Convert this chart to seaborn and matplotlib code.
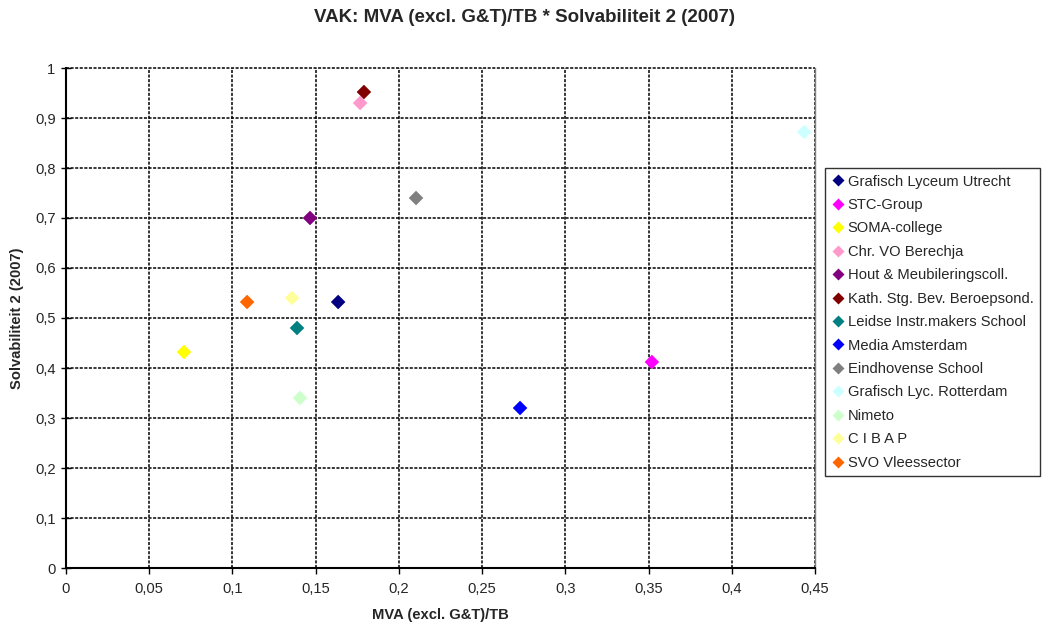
import matplotlib
matplotlib.use("Agg")
import matplotlib.pyplot as plt
import seaborn as sns
import pandas as pd
from matplotlib.ticker import FuncFormatter, MultipleLocator
from matplotlib.lines import Line2D

schools = ["Grafisch Lyceum Utrecht", "STC-Group", "SOMA-college", "Chr. VO Berechja",
           "Hout & Meubileringscoll.", "Kath. Stg. Bev. Beroepsond.", "Leidse Instr.makers School",
           "Media Amsterdam", "Eindhovense School", "Grafisch Lyc. Rotterdam", "Nimeto",
           "C I B A P", "SVO Vleessector"]
mva = [0.1635, 0.352, 0.0709, 0.1767, 0.1466, 0.179, 0.1388, 0.2728, 0.2103, 0.4435, 0.1406, 0.1358, 0.1088]
solv = [0.532, 0.412, 0.432, 0.930, 0.700, 0.952, 0.480, 0.320, 0.740, 0.872, 0.340, 0.540, 0.532]
colors = ["#000080", "#FF00FF", "#FFFF00", "#FF99CC", "#800080", "#800000", "#008080",
          "#0000FF", "#808080", "#CCFFFF", "#CCFFCC", "#FFFF99", "#FF6600"]

df = pd.DataFrame({"school": schools, "x": mva, "y": solv})

sns.set_style("white")
plt.rcParams["font.family"] = ["Liberation Sans", "DejaVu Sans"]

FS = 10.6

fig = plt.figure(figsize=(10.5, 6.25), dpi=100)
ax = fig.add_axes([66/1050, 57/625, 749/1050, 500/625])

sns.scatterplot(data=df, x="x", y="y", hue="school", palette=colors, hue_order=schools,
                marker="D", s=55, edgecolor="none", ax=ax, legend=False, zorder=3)

ax.set_xlim(0, 0.45)
ax.set_ylim(0, 1)
ax.xaxis.set_major_locator(MultipleLocator(0.05))
ax.yaxis.set_major_locator(MultipleLocator(0.1))

def fmt(v, pos):
    s = f"{v:.2f}".rstrip("0").rstrip(".")
    return s.replace(".", ",")

ax.xaxis.set_major_formatter(FuncFormatter(fmt))
ax.yaxis.set_major_formatter(FuncFormatter(fmt))
ax.grid(True, color="black", linestyle=(0, (2, 1)), linewidth=1.1, zorder=0)
ax.set_axisbelow(True)
for side in ["left", "bottom"]:
    ax.spines[side].set_color("black")
    ax.spines[side].set_linewidth(1.5)
ax.spines["top"].set_visible(False)
ax.spines["right"].set_color("#808080")
ax.spines["right"].set_linewidth(1.0)
ax.tick_params(axis="both", which="both", length=4, width=1,
               color="black", labelsize=FS, bottom=True, left=True)
ax.tick_params(axis="y", direction="inout", length=7, pad=4)
ax.tick_params(axis="x", direction="out", pad=6)

ax.set_xlabel("MVA (excl. G&T)/TB", fontsize=FS, fontweight="bold", labelpad=9)
ax.set_ylabel("Solvabiliteit 2 (2007)", fontsize=FS, fontweight="bold", labelpad=8)
fig.text(0.5, 1 - 18/625, "VAK: MVA (excl. G&T)/TB * Solvabiliteit 2 (2007)",
         ha="center", va="center", fontsize=13.5, fontweight="bold")

handles = [Line2D([0], [0], marker="D", linestyle="none", markersize=6.3,
                  markerfacecolor=c, markeredgecolor="none") for c in colors]
leg = fig.legend(handles, schools, loc="upper left", bbox_to_anchor=(825/1050, 1 - 168/625),
                 fontsize=FS, frameon=True, fancybox=False, handlelength=0.8,
                 handletextpad=0.3, labelspacing=0.64, borderpad=0.45, borderaxespad=0)
leg.get_frame().set_edgecolor("black")
leg.get_frame().set_linewidth(1.0)

fig.canvas.draw()
for gl in ax.get_ygridlines() + ax.get_xgridlines():
    gl.set_clip_on(False)

fig.savefig("out.png", dpi=100)
